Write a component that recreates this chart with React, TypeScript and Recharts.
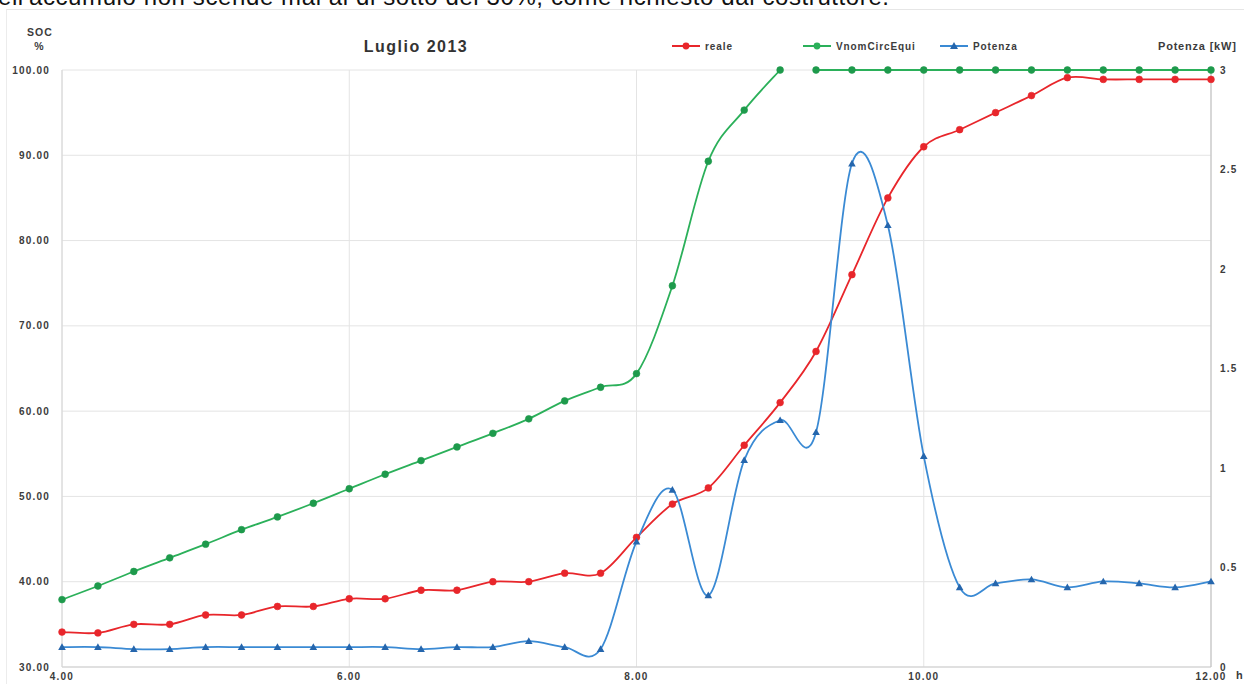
import React from 'react';
import { LineChart, Line, XAxis, YAxis, CartesianGrid } from 'recharts';

// orari (h) ogni 15 minuti
const hours = [4, 4.25, 4.5, 4.75, 5, 5.25, 5.5, 5.75, 6, 6.25, 6.5, 6.75, 7, 7.25, 7.5, 7.75, 8, 8.25, 8.5, 8.75, 9, 9.25, 9.5, 9.75, 10, 10.25, 10.5, 10.75, 11, 11.25, 11.5, 11.75, 12];

// SOC reale (%)
const reale = [34.1, 34.0, 35.0, 35.0, 36.1, 36.1, 37.1, 37.1, 38.0, 38.0, 39.0, 39.0, 40.0, 40.0, 41.0, 41.0, 45.2, 49.1, 51.0, 56.0, 61.0, 67.0, 76.0, 85.0, 91.0, 93.0, 95.0, 97.0, 99.1, 98.9, 98.9, 98.9, 98.9];

// SOC VnomCircEqui (%): salita fino alle 9.00, poi tratto a 100 staccato
const vnomSalita = [37.9, 39.5, 41.2, 42.8, 44.4, 46.1, 47.6, 49.2, 50.9, 52.6, 54.2, 55.8, 57.4, 59.1, 61.2, 62.8, 64.4, 74.7, 89.3, 95.3, 100];
const vnomPieno = [100, 100, 100, 100, 100, 100, 100, 100, 100, 100, 100, 100];

// Potenza (kW)
const potenza = [0.1, 0.1, 0.09, 0.09, 0.1, 0.1, 0.1, 0.1, 0.1, 0.1, 0.09, 0.1, 0.1, 0.13, 0.1, 0.09, 0.63, 0.89, 0.36, 1.04, 1.24, 1.18, 2.53, 2.22, 1.06, 0.4, 0.42, 0.44, 0.4, 0.43, 0.42, 0.4, 0.43];

const socTicks = [30, 40, 50, 60, 70, 80, 90, 100];
const kwTicks = [0, 0.5, 1, 1.5, 2, 2.5, 3];
const hourTicks = [4, 6, 8, 10, 12];

const data = hours.map((t, i) => ({
  t,
  reale: reale[i],
  vnomA: i < vnomSalita.length ? vnomSalita[i] : null,
  vnomB: i >= vnomSalita.length ? vnomPieno[i - vnomSalita.length] : null,
  potenza: potenza[i],
}));

const RED = '#e8262b';
const GREEN = '#2bb05a';
const GREEN_DOT = '#1e9a4c';
const BLUE = '#3a8ad4';
const BLUE_DOT = '#2566ad';
const FONT = '"Liberation Sans", Arial, sans-serif';

// curva "smussata" stile Excel (Catmull-Rom)
const excelSmooth = (ctx: any) => {
  let pts: number[][] = [];
  return {
    areaStart() {},
    areaEnd() {},
    lineStart() {
      pts = [];
    },
    point(x: number, y: number) {
      pts.push([+x, +y]);
    },
    lineEnd() {
      const n = pts.length;
      if (!n) return;
      ctx.moveTo(pts[0][0], pts[0][1]);
      for (let i = 0; i < n - 1; i++) {
        const p0 = pts[Math.max(i - 1, 0)];
        const p1 = pts[i];
        const p2 = pts[i + 1];
        const p3 = pts[Math.min(i + 2, n - 1)];
        ctx.bezierCurveTo(
          p1[0] + (p2[0] - p0[0]) / 6,
          p1[1] + (p2[1] - p0[1]) / 6,
          p2[0] - (p3[0] - p1[0]) / 6,
          p2[1] - (p3[1] - p1[1]) / 6,
          p2[0],
          p2[1]
        );
      }
    },
  };
};

const roundDot = (color: string) => (p: any) => {
  if (p.cx == null || p.cy == null || p.value == null) return <g key={p.key} />;
  return <circle key={p.key} cx={p.cx} cy={p.cy} r={3.4} fill={color} stroke={color} strokeWidth={0.6} />;
};

const triDot = (p: any) => {
  if (p.cx == null || p.cy == null || p.value == null) return <g key={p.key} />;
  const s = 3.8;
  return (
    <polygon
      key={p.key}
      points={`${p.cx},${p.cy - s} ${p.cx + s},${p.cy + s * 0.75} ${p.cx - s},${p.cy + s * 0.75}`}
      fill={BLUE_DOT}
    />
  );
};

const tickStyle = { fontSize: 10, fontWeight: 'bold' as const, fill: '#3c3c3c', fontFamily: FONT, letterSpacing: 1.2 };

const LegendItem = ({ x, color, label, tri }: { x: number; color: string; label: string; tri?: boolean }) => (
  <g>
    <line x1={x} y1={46} x2={x + 28} y2={46} stroke={color} strokeWidth={2} />
    {tri ? (
      <polygon points={`${x + 14},${42} ${x + 18},${49} ${x + 10},${49}`} fill={BLUE_DOT} />
    ) : (
      <circle cx={x + 14} cy={46} r={3.4} fill={color} />
    )}
    <text x={x + 33} y={49.5} fontSize={10} fontWeight="bold" fill="#3c3c3c" fontFamily={FONT} letterSpacing={0.9}>
      {label}
    </text>
  </g>
);

export default function App() {
  return (
    <div style={{ position: 'relative', width: 1244, height: 684, background: '#fff', overflow: 'hidden' }}>
      <style>{'body{margin:0}'}</style>
      <svg width={1244} height={12} style={{ position: 'absolute', left: 0, top: 0 }}>
        <text x={-16} y={5} fontSize={24} fill="#111" fontFamily={FONT} letterSpacing={0.6}>
          dell'accumulo non scende mai al di sotto del 30%, come richiesto dal costruttore.
        </text>
      </svg>
      <div
        style={{
          position: 'absolute',
          left: 6,
          top: 9,
          width: 1240,
          height: 690,
          borderTop: '1px solid #e6e6e6',
          borderLeft: '1px solid #ececec',
          background: '#fff',
        }}
      />
      <div style={{ position: 'absolute', left: 0, top: 0 }}>
        <LineChart width={1244} height={684} data={data} margin={{ top: 70, right: 0, left: 0, bottom: 0 }}>
          <CartesianGrid yAxisId="soc" stroke="#e4e4e4" strokeWidth={1} />
          <XAxis
            dataKey="t"
            type="number"
            domain={[4, 12]}
            ticks={hourTicks}
            interval={0}
            tickFormatter={(v: number) => v.toFixed(2)}
            axisLine={{ stroke: '#cfcfcf' }}
            tickLine={false}
            tickSize={0}
            tickMargin={6}
            height={17}
            tick={tickStyle}
          />
          <YAxis
            yAxisId="soc"
            domain={[30, 100]}
            ticks={socTicks}
            interval={0}
            tickFormatter={(v: number) => v.toFixed(2)}
            axisLine={{ stroke: '#d6d6d6' }}
            tickLine={false}
            tickSize={0}
            tickMargin={12}
            width={62}
            tick={tickStyle}
          />
          <YAxis
            yAxisId="kw"
            orientation="right"
            domain={[0, 3]}
            ticks={kwTicks}
            interval={0}
            axisLine={{ stroke: '#bdbdbd' }}
            tickLine={false}
            tickSize={0}
            tickMargin={9}
            width={33}
            tick={tickStyle}
          />
          <Line
            yAxisId="soc"
            dataKey="vnomA"
            type={excelSmooth as any}
            stroke={GREEN}
            strokeWidth={1.8}
            dot={roundDot(GREEN_DOT)}
            activeDot={false}
            isAnimationActive={false}
          />
          <Line
            yAxisId="soc"
            dataKey="vnomB"
            type={excelSmooth as any}
            stroke={GREEN}
            strokeWidth={1.8}
            dot={roundDot(GREEN_DOT)}
            activeDot={false}
            isAnimationActive={false}
          />
          <Line
            yAxisId="soc"
            dataKey="reale"
            type={excelSmooth as any}
            stroke={RED}
            strokeWidth={1.8}
            dot={roundDot(RED)}
            activeDot={false}
            isAnimationActive={false}
          />
          <Line
            yAxisId="kw"
            dataKey="potenza"
            type={excelSmooth as any}
            stroke={BLUE}
            strokeWidth={1.8}
            dot={triDot}
            activeDot={false}
            isAnimationActive={false}
          />
        </LineChart>
      </div>
      <svg width={1244} height={684} style={{ position: 'absolute', left: 0, top: 0, pointerEvents: 'none' }}>
        <text x={40} y={36} textAnchor="middle" fontSize={10.5} fontWeight="bold" fill="#3c3c3c" fontFamily={FONT} letterSpacing={1}>
          SOC
        </text>
        <text x={39} y={50} textAnchor="middle" fontSize={10.5} fontWeight="bold" fill="#3c3c3c" fontFamily={FONT}>
          %
        </text>
        <text x={416} y={52} textAnchor="middle" fontSize={16} fontWeight="bold" fill="#333" fontFamily={FONT} letterSpacing={1.5}>
          Luglio 2013
        </text>
        <LegendItem x={672} color={RED} label="reale" />
        <LegendItem x={803} color={GREEN} label="VnomCircEqui" />
        <LegendItem x={940} color={BLUE} label="Potenza" tri />
        <text x={1158} y={49.5} fontSize={11} fontWeight="bold" fill="#3c3c3c" fontFamily={FONT} letterSpacing={0.8}>
          Potenza [kW]
        </text>
        <text x={1236} y={679} fontSize={11} fontWeight="bold" fill="#3c3c3c" fontFamily={FONT}>
          h
        </text>
      </svg>
    </div>
  );
}
